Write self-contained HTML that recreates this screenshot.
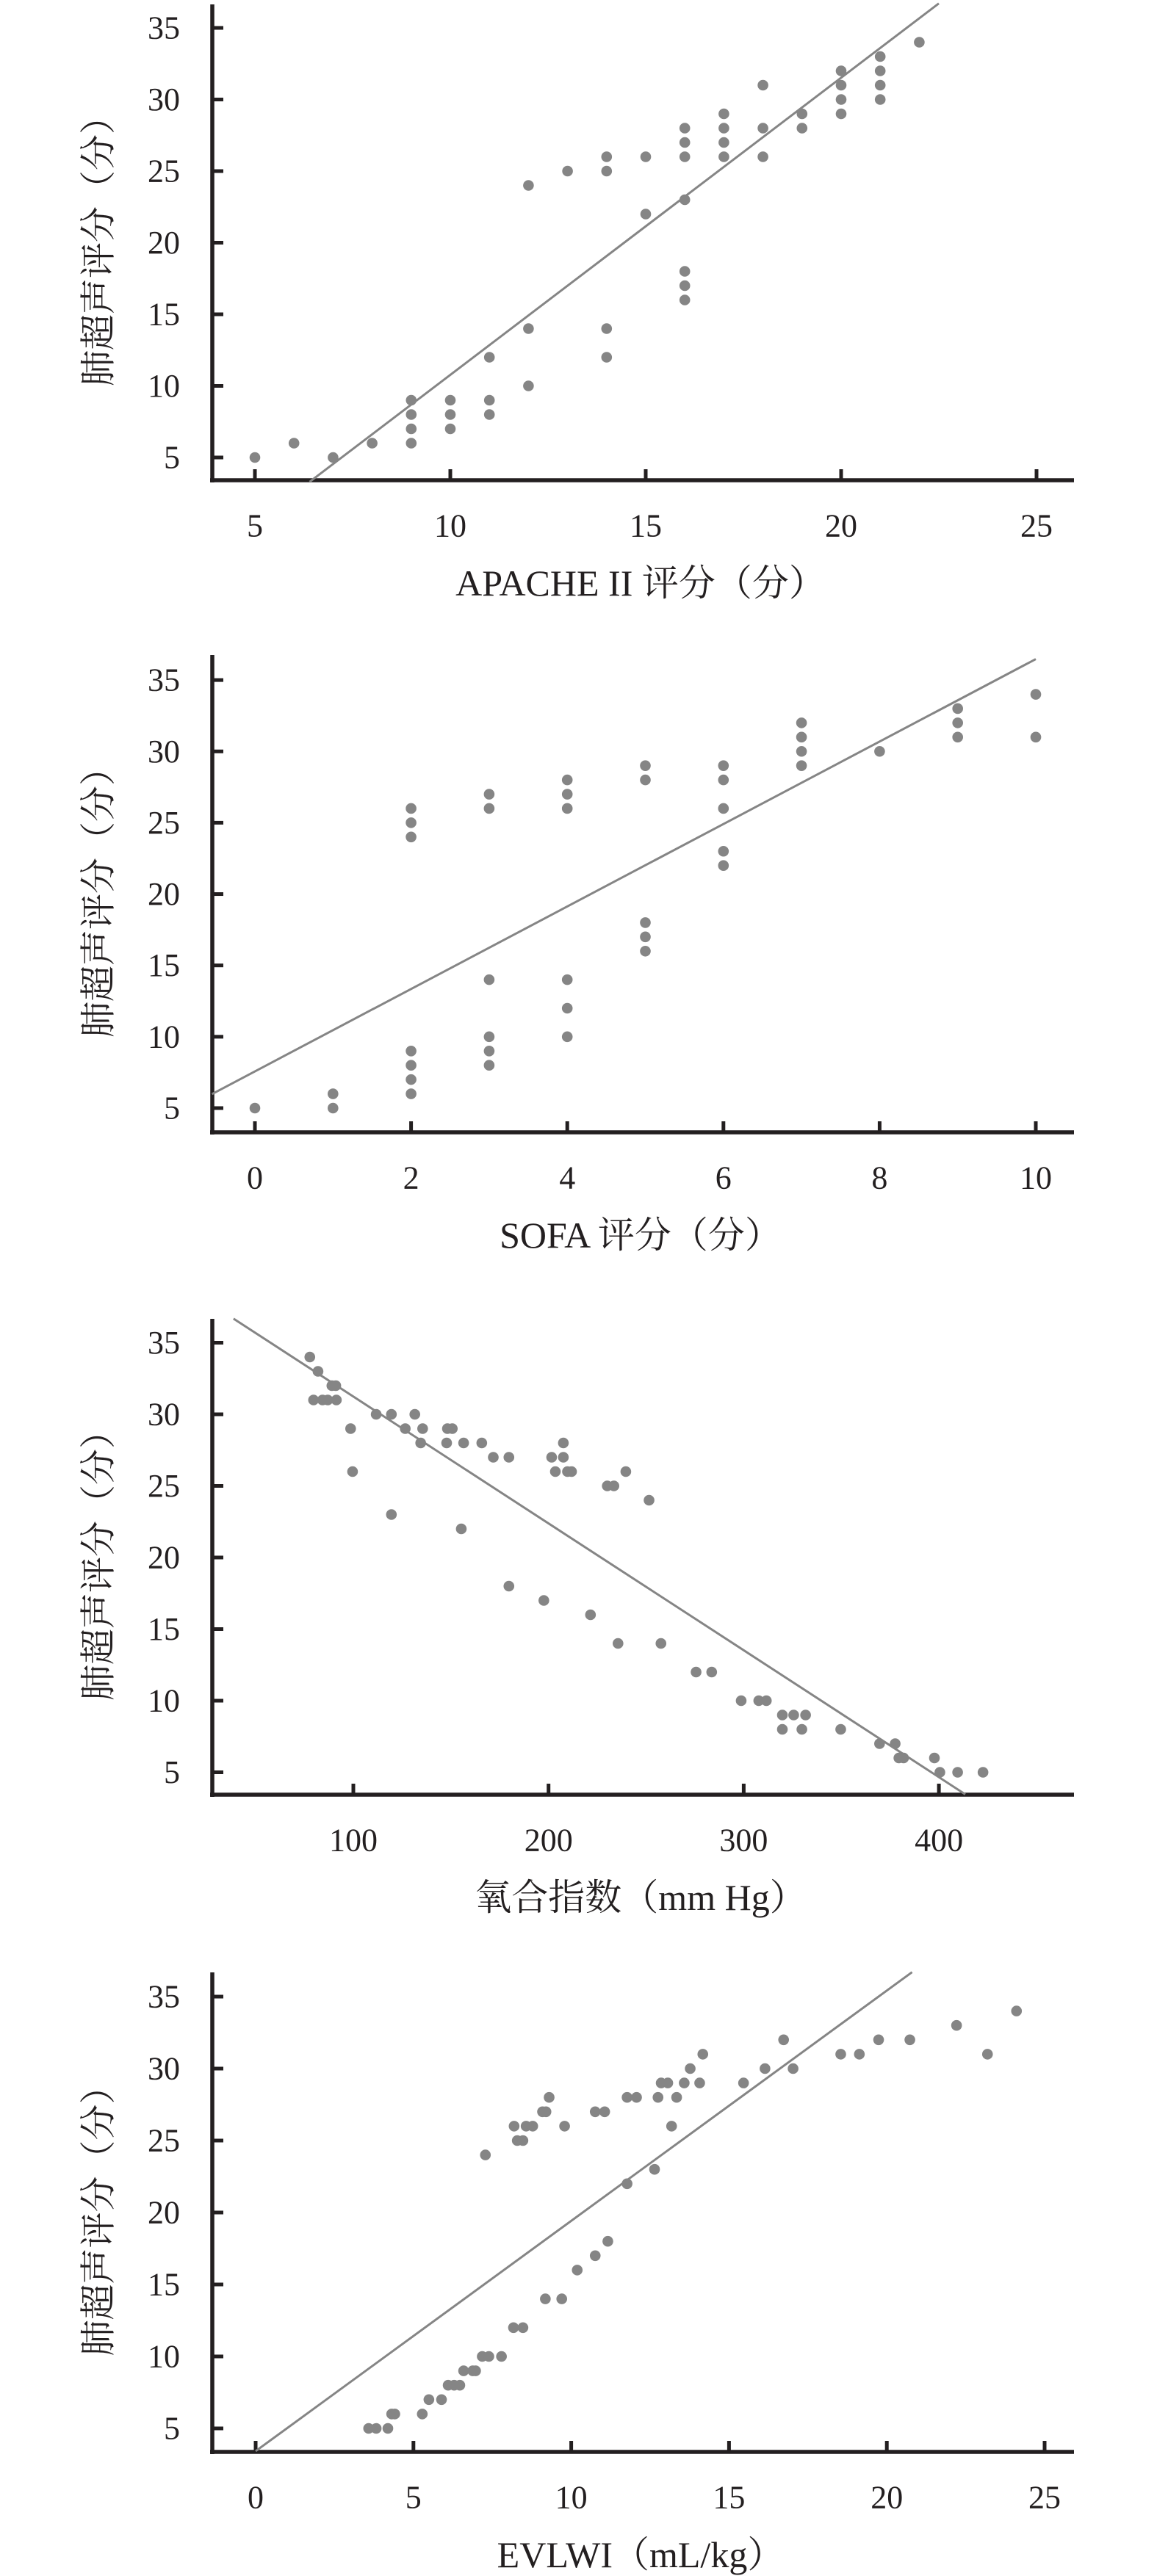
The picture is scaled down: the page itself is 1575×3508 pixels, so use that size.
<!DOCTYPE html>
<html><head><meta charset="utf-8"><style>
html,body{margin:0;padding:0;background:#fff}
svg{display:block}
text{font-family:"Liberation Serif","Noto Serif CJK SC","Noto Sans CJK SC",serif;fill:#231f20}
</style></head><body>
<svg id="fig" width="1575" height="3508" viewBox="0 0 1575 3508" xmlns="http://www.w3.org/2000/svg"></svg>
<script>
// ---- Chart 1: APACHE II vs LUS ----
const apacheX = [5,6,7,8,9,9,9,9,10,10,10,11,11,11,12,12,12,13,14,14,14,14,15,15,16,16,16,16,16,16,16,17,17,17,17,18,18,18,19,19,20,20,20,20,21,21,21,21,22];
const apacheY = [5,6,5,6,9,8,7,6,9,8,7,12,9,8,24,14,10,25,26,25,14,12,26,22,28,27,26,23,18,17,16,29,28,27,26,31,28,26,29,28,32,31,30,29,33,32,31,30,34];
const apacheTicks = [5,10,15,20,25];
const apacheFit = [2.075,-9.98];
const apacheFitRange = [6.4,22.5];
// ---- Chart 2: SOFA vs LUS ----
const sofaX = [0,1,1,2,2,2,2,2,2,2,3,3,3,3,3,3,4,4,4,4,4,4,5,5,5,5,5,6,6,6,6,6,7,7,7,7,8,9,9,9,10,10];
const sofaY = [5,6,5,26,25,24,9,8,7,6,27,26,14,10,9,8,28,27,26,14,12,10,29,28,18,17,16,29,28,26,23,22,32,31,30,29,30,33,32,31,34,31];
const sofaTicks = [0,2,4,6,8,10];
const sofaFit = [2.89,7.57];
const sofaFitRange = [-0.55,10];
// ---- Chart 3: Oxygenation index vs LUS ----
const oxyX = [77.7,81.9,79.6,84.2,86.9,91.3,89,91,98.6,99.6,111.7,119.5,119.5,126.6,131.5,134.5,135.5,147.8,148.2,150.7,155.3,156.5,165.8,171.7,179.7,179.7,197.6,201.6,203.5,207.6,207.6,209.7,211.8,221.5,230.1,233.5,235.6,239.6,251.5,257.6,275.6,283.6,298.7,307.7,311.6,319.8,325.6,331.7,319.8,329.8,349.7,369.6,377.6,379.5,381.9,397.7,400.5,409.6,422.6];
const oxyY = [34,33,31,31,31,31,32,32,29,26,30,30,23,29,30,28,29,28,29,29,22,28,28,27,27,18,17,27,26,28,27,26,26,16,25,25,14,26,24,14,12,12,10,10,10,9,9,9,8,8,8,7,7,6,6,6,5,5,5];
const oxyTicks = [100,200,300,400];
const oxyFit = [-0.0886,40.1];
const oxyFitRange = [38.6,413.5];
// ---- Chart 4: EVLWI vs LUS ----
const evX = [3.58,3.82,4.19,4.31,4.41,5.28,5.49,5.89,6.1,6.29,6.47,6.59,6.88,6.97,7.18,7.39,7.79,8.17,8.47,9.18,9.70,10.19,10.76,11.16,11.77,12.64,7.28,8.19,8.29,8.47,8.57,8.78,9.79,13.18,9.09,9.2,9.30,10.76,11.06,11.77,12.07,12.75,13.34,12.85,13.06,13.58,14.07,13.77,14.17,15.46,16.14,16.73,17.03,18.54,19.13,19.74,20.73,22.21,23.19,24.11];
const evY = [5,5,5,6,6,6,7,7,8,8,8,9,9,9,10,10,10,12,12,14,14,16,17,18,22,23,24,26,25,25,26,26,26,26,27,27,28,27,27,28,28,28,28,29,29,29,29,30,31,29,30,32,30,31,31,32,32,33,31,34];
const evTicks = [0,5,10,15,20,25];
const evFit = [1.6,3.42];
const evFitRange = [0,20.8];
const yTicks = [5,10,15,20,25,30,35];

const NS = "http://www.w3.org/2000/svg";
const svg = document.getElementById('fig');
function mk(tag, attrs, parent){
  const e = document.createElementNS(NS, tag);
  for (const k in attrs) e.setAttribute(k, attrs[k]);
  (parent||svg).appendChild(e);
  return e;
}
const AXX = 289, XRIGHT = 1462;

function drawChart(id, xs, ys, xticks, fit, fitRange, axisY, top, x0v, x0px, xScale, y5px, yScale, title){
  const g = mk('g', {});
  
  
  const X = v => x0px + (v - x0v) * xScale;
  const Y = v => y5px - (v - 5) * yScale;
  // axes
  const ya = mk('line', {x1:AXX, y1:top, x2:AXX, y2:axisY+3, stroke:'#231f20','stroke-width':5.5}, g);
  
  
  const xa = mk('line', {x1:AXX-3, y1:axisY, x2:XRIGHT, y2:axisY, stroke:'#231f20','stroke-width':5.5}, g);
  
  
  yTicks.forEach(t => {
    const l = mk('line', {x1:AXX, y1:Y(t), x2:AXX+15, y2:Y(t), stroke:'#231f20','stroke-width':5}, g);
    
    
    const tx = mk('text', {x:245, y:Y(t), 'text-anchor':'end', 'dominant-baseline':'central', 'font-size':44}, g);
    
    
    tx.textContent = t;
  });
  xticks.forEach(t => {
    const l = mk('line', {x1:X(t), y1:axisY, x2:X(t), y2:axisY-15, stroke:'#231f20','stroke-width':5}, g);
    
    
    const tx = mk('text', {x:X(t), y:axisY+62, 'text-anchor':'middle', 'dominant-baseline':'central', 'font-size':44}, g);
    
    
    tx.textContent = t;
  });
  // fit line
  const fl = mk('line', {x1:X(fitRange[0]), y1:Y(fit[0]*fitRange[0]+fit[1]), x2:X(fitRange[1]), y2:Y(fit[0]*fitRange[1]+fit[1]), stroke:'#858585','stroke-width':3}, g);
  
  
  // points
  for (let i = 0; i < xs.length; i++) {
    const c = mk('circle', {cx:X(xs[i]), cy:Y(ys[i]), r:7.3, fill:'#858585'}, g);
    
    
  }
  // titles
  const cy = (top + axisY) / 2;
  const yt = mk('text', {x:0, y:0, transform:`translate(134 ${cy}) rotate(-90)`, 'text-anchor':'middle', 'dominant-baseline':'central', 'font-size':49}, g);
  
  
  yt.textContent = '肺超声评分（分）';
  const xt = mk('text', {x:872, y:axisY+140, 'text-anchor':'middle', 'dominant-baseline':'central', 'font-size':50}, g);
  
  
  xt.textContent = title;
}

drawChart('apache', apacheX, apacheY, apacheTicks, apacheFit, apacheFitRange, 654, 6, 5, 347, 53.2, 623, 19.5, 'APACHE II 评分（分）');
drawChart('sofa', sofaX, sofaY, sofaTicks, sofaFit, sofaFitRange, 1542, 892, 0, 347, 106.3, 1509, 19.43, 'SOFA 评分（分）');
drawChart('oxygenation', oxyX, oxyY, oxyTicks, oxyFit, oxyFitRange, 2444, 1796, 100, 481, 2.657, 2413.5, 19.5, '氧合指数（mm Hg）');
drawChart('evlwi', evX, evY, evTicks, evFit, evFitRange, 3339, 2686, 0, 348, 42.96, 3307, 19.6, 'EVLWI（mL/kg）');
</script>
</body></html>
